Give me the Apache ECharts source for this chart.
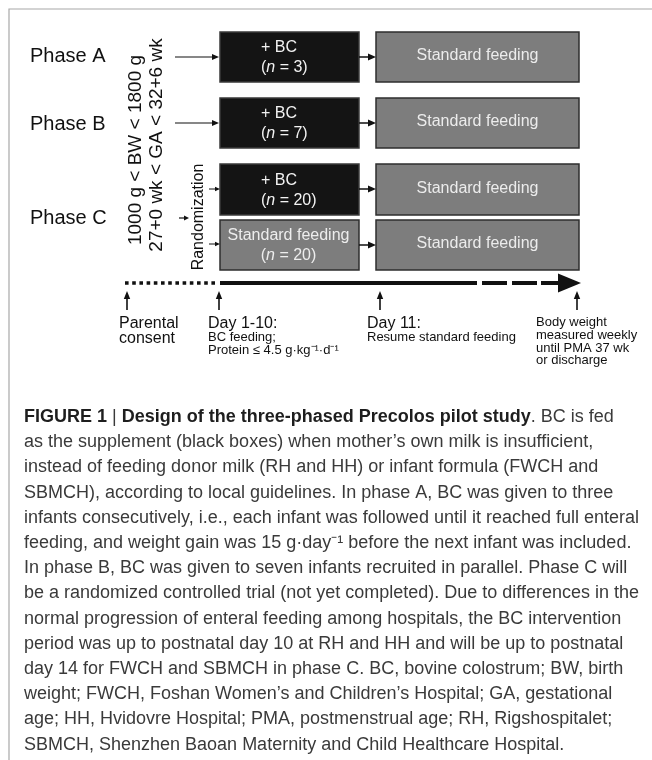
<!DOCTYPE html>
<html>
<head>
<meta charset="UTF-8">
<title>Precolos pilot study design</title>
<script src="https://cdn.jsdelivr.net/npm/echarts@6/dist/echarts.min.js"></script>
<style>html,body{margin:0;padding:0;background:#fff}#main{width:652px;height:760px}</style>
</head>
<body>
<div id="main"></div>
<script>
// content of the diagram
const phaseNames = ['Phase A', 'Phase B', 'Phase C'];
const criteria = ['1000 g < BW < 1800 g', '27+0 wk < GA < 32+6 wk'];
const firstLabels = ['+ BC', '+ BC', '+ BC', 'Standard feeding'];
const groupSizes = [3, 7, 20, 20];
const firstIsBC = [true, true, true, false];
const secondLabel = 'Standard feeding';
const milestoneTitles = ['Parental\nconsent', 'Day 1-10:', 'Day 11:', ''];
const milestoneNotes = ['', 'BC feeding;\nProtein ≤ 4.5 g·kg⁻¹·d⁻¹', 'Resume standard feeding',
  'Body weight\nmeasured weekly\nuntil PMA 37 wk\nor discharge'];
const captionLines = [
  '{b|FIGURE 1} | {b|Design of the three-phased Precolos pilot study}. BC is fed',
  'as the supplement (black boxes) when mother’s own milk is insufficient,',
  'instead of feeding donor milk (RH and HH) or infant formula (FWCH and',
  'SBMCH), according to local guidelines. In phase A, BC was given to three',
  'infants consecutively, i.e., each infant was followed until it reached full enteral',
  'feeding, and weight gain was 15 g·day⁻¹ before the next infant was included.',
  'In phase B, BC was given to seven infants recruited in parallel. Phase C will',
  'be a randomized controlled trial (not yet completed). Due to differences in the',
  'normal progression of enteral feeding among hospitals, the BC intervention',
  'period was up to postnatal day 10 at RH and HH and will be up to postnatal',
  'day 14 for FWCH and SBMCH in phase C. BC, bovine colostrum; BW, birth',
  'weight; FWCH, Foshan Women’s and Children’s Hospital; GA, gestational',
  'age; HH, Hvidovre Hospital; PMA, postmenstrual age; RH, Rigshospitalet;',
  'SBMCH, Shenzhen Baoan Maternity and Child Healthcare Hospital.'
];

// layout (diagram units = pixels of the 652x760 frame)
const rowTop = [32, 98, 164, 220];
const rowBottom = [82, 148, 215, 270];
const colLeft = [220, 376];
const colRight = [359, 579];
const phaseY = [56, 124, 218];
const lineY = 283;
const milestoneX = [127, 219, 380, 577];
const labelX = [119, 208, 367, 536];

const FONT = '"Liberation Sans", Arial, Helvetica, sans-serif';
const CAPTION_SIZE = 18;

var myChart = echarts.init(document.getElementById('main'));

function renderBox(params, api) {
  const i = api.value(0);
  const row = i % 4, col = Math.floor(i / 4);
  const p0 = api.coord([colLeft[col], rowTop[row]]);
  const p1 = api.coord([colRight[col], rowBottom[row]]);
  const dark = col === 0 && firstIsBC[row];
  const cy = (p0[1] + p1[1]) / 2;
  const children = [{
    type: 'rect',
    shape: { x: p0[0], y: p0[1], width: p1[0] - p0[0], height: p1[1] - p0[1] },
    style: { fill: dark ? '#141414' : '#7d7d7d', stroke: dark ? '#3a3a3a' : '#2e2e2e', lineWidth: 1.5 }
  }];
  if (col === 0) {
    children.push({
      type: 'text',
      style: {
        x: dark ? p0[0] + 41 : (p0[0] + p1[0]) / 2 - 1,
        y: cy + 1,
        text: firstLabels[row] + '\n({i|n} = ' + groupSizes[row] + ')',
        align: dark ? 'left' : 'center',
        verticalAlign: 'middle',
        lineHeight: 20,
        fill: dark ? '#f2f2f2' : '#ededed',
        font: '16px ' + FONT,
        rich: { i: { fontStyle: 'italic', fontSize: 16, fontFamily: FONT, fill: dark ? '#f2f2f2' : '#ededed' } }
      }
    });
  } else {
    children.push({
      type: 'text',
      style: {
        x: (p0[0] + p1[0]) / 2, y: cy - 1,
        text: secondLabel, align: 'center', verticalAlign: 'middle',
        fill: '#ececec', font: '16px ' + FONT
      }
    });
  }
  return { type: 'group', children: children };
}

// arrows: [x1, y1, x2, y2, lineWidth, headLength, headHalfWidth]
const arrows = [
  [175, 57, 219, 57, 1.2, 7, 3],
  [175, 123, 219, 123, 1.2, 7, 3],
  [179, 218, 189, 218, 1.2, 5, 2.5],
  [209, 189, 220, 189, 1, 5, 2.2],
  [209, 244, 220, 244, 1, 5, 2.2],
  [359, 57, 376, 57, 1.5, 8, 3.5],
  [359, 123, 376, 123, 1.5, 8, 3.5],
  [359, 189, 376, 189, 1.5, 8, 3.5],
  [359, 245, 376, 245, 1.5, 8, 3.5],
  [541, lineY, 581, lineY, 4, 23, 9.5]
];
milestoneX.forEach(x => arrows.push([x, 310, x, 291, 1.6, 8, 3.2]));

function renderArrow(params, api) {
  const p = api.coord([api.value(0), api.value(1)]);
  const q = api.coord([api.value(2), api.value(3)]);
  const lw = api.value(4), hl = api.value(5), hw = api.value(6);
  const dx = q[0] - p[0], dy = q[1] - p[1];
  const len = Math.sqrt(dx * dx + dy * dy);
  const ux = dx / len, uy = dy / len;
  const bx = q[0] - ux * hl, by = q[1] - uy * hl;
  return {
    type: 'group',
    children: [
      { type: 'line', shape: { x1: p[0], y1: p[1], x2: bx + ux, y2: by + uy }, style: { stroke: '#111', lineWidth: lw } },
      { type: 'polygon', shape: { points: [[q[0], q[1]], [bx - uy * hw, by + ux * hw], [bx + uy * hw, by - ux * hw]] }, style: { fill: '#111' } }
    ]
  };
}

// timeline pieces: [x1, x2, style] 0 = dotted, 1 = solid
const timeline = [
  [125, 217, 0],
  [220, 477, 1],
  [482, 507, 1],
  [512, 537, 1]
];

function renderTimeline(params, api) {
  const p = api.coord([api.value(0), lineY]);
  const q = api.coord([api.value(1), lineY]);
  const dotted = api.value(2) === 0;
  return {
    type: 'line',
    shape: { x1: p[0], y1: p[1], x2: q[0], y2: q[1] },
    style: { stroke: '#111', lineWidth: dotted ? 3.5 : 4, lineDash: dotted ? [3.6, 3.6] : null }
  };
}

const graphics = [{
  type: 'rect', silent: true,
  shape: { x: 9, y: 9, width: 700, height: 800 },
  style: { fill: null, stroke: '#a8a8a8', lineWidth: 1.2 }
}];

phaseNames.forEach((name, i) => {
  graphics.push({
    type: 'text', x: 30, y: phaseY[i],
    style: { text: name, font: '20px ' + FONT, fill: '#111', verticalAlign: 'middle' }
  });
});

[[136, 150], [157, 145]].forEach((c, i) => {
  graphics.push({
    type: 'text', x: c[0], y: c[1], rotation: Math.PI / 2,
    style: { text: criteria[i], font: '19px ' + FONT, fill: '#111', align: 'center', verticalAlign: 'middle' }
  });
});
graphics.push({
  type: 'text', x: 199, y: 217, rotation: Math.PI / 2,
  style: { text: 'Randomization', font: '16px ' + FONT, fill: '#111', align: 'center', verticalAlign: 'middle' }
});

milestoneTitles.forEach((t, i) => {
  if (t) {
    graphics.push({
      type: 'text', x: labelX[i], y: 316.5,
      style: { text: t, font: '16px ' + FONT, fill: '#111', lineHeight: 15 }
    });
  }
  if (milestoneNotes[i]) {
    graphics.push({
      type: 'text', x: labelX[i], y: i === 3 ? 316 : 331.5,
      style: { text: milestoneNotes[i], font: '13px ' + FONT, fill: '#111', lineHeight: 12.8 }
    });
  }
});

captionLines.forEach((line, i) => {
  graphics.push({
    type: 'text', x: 24, y: 417 + i * 25.2,
    style: {
      text: line, font: CAPTION_SIZE + 'px ' + FONT, fill: '#3a3a3a', verticalAlign: 'middle',
      rich: { b: { fontWeight: 'bold', fontSize: CAPTION_SIZE, fontFamily: FONT, fill: '#1e1e1e' } }
    }
  });
});

option = {
  animation: false,
  grid: { left: 0, right: 0, top: 0, bottom: 0 },
  xAxis: { type: 'value', min: 0, max: 652, show: false },
  yAxis: { type: 'value', min: 0, max: 760, inverse: true, show: false },
  graphic: graphics,
  series: [
    { type: 'custom', renderItem: renderTimeline, data: timeline, silent: true },
    { type: 'custom', renderItem: renderBox, data: [0, 1, 2, 3, 4, 5, 6, 7].map(i => [i]), silent: true },
    { type: 'custom', renderItem: renderArrow, data: arrows, silent: true }
  ]
};
myChart.setOption(option);
</script>
</body>
</html>
